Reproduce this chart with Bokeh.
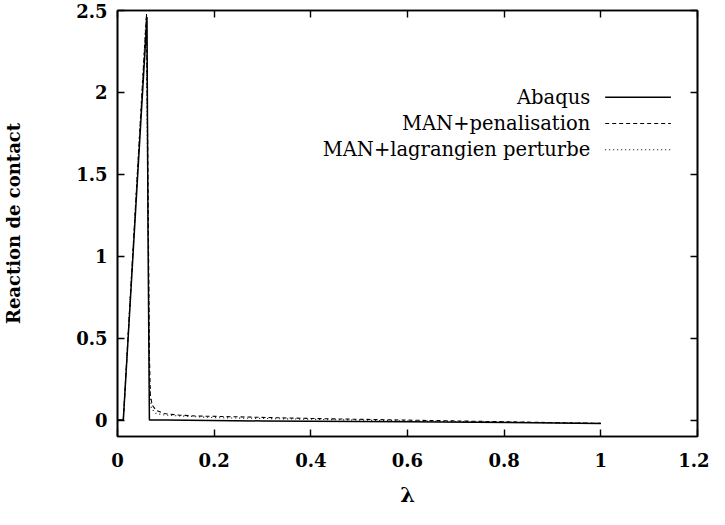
from bokeh.plotting import figure
from bokeh.models import (LinearAxis, FixedTicker, Label, Arrow, Range1d,
                          CustomLabelingPolicy)
from bokeh.embed import file_html
from bokeh.resources import INLINE

# ---- data ----
lam_abaqus = [0.0, 0.012, 0.061, 0.063, 0.066, 0.10, 0.30, 0.60, 1.0]
r_abaqus = [0.0, 0.0, 2.46, 1.20, 0.0, 0.0, -0.005, -0.01, -0.02]

lam_pen = [0.0, 0.012, 0.060, 0.063, 0.066, 0.068, 0.072, 0.080, 0.096,
           0.13, 0.165, 0.25, 0.40, 0.60, 0.80, 1.0]
r_pen = [0.0, 0.0, 2.48, 1.50, 0.40, 0.15, 0.09, 0.06, 0.04,
         0.03, 0.025, 0.02, 0.01, 0.0, -0.01, -0.02]

lam_lag = [0.0, 0.012, 0.059, 0.063, 0.066, 0.070, 0.080, 0.10,
           0.20, 0.40, 0.60, 0.80, 1.0]
r_lag = [0.0, 0.0, 2.45, 1.30, 0.25, 0.07, 0.04, 0.03,
         0.015, 0.005, -0.005, -0.012, -0.02]

x_ticks = [0, 0.2, 0.4, 0.6, 0.8, 1, 1.2]
x_tick_labels = ["0", "0.2", "0.4", "0.6", "0.8", "1", "1.2"]
y_ticks = [0, 0.5, 1, 1.5, 2, 2.5]
y_tick_labels = ["0", "0.5", "1", "1.5", "2", "2.5"]

series_names = ["Abaqus", "MAN+penalisation", "MAN+lagrangien perturbe"]

# ---- figure ----
SERIF = "DejaVu Serif"
p = figure(width=709, height=509, output_backend="svg", toolbar_location=None,
           x_range=Range1d(0, 1.2), y_range=Range1d(-0.1, 2.5),
           min_border_left=112, min_border_right=12, min_border_top=10,
           min_border_bottom=72)
p.background_fill_color = "white"
p.border_fill_color = "white"
p.outline_line_color = "black"
p.outline_line_width = 1.6
p.xgrid.visible = False
p.ygrid.visible = False

hide_labels = CustomLabelingPolicy(code="""
try {
  for (const i of Array.from(indices)) { indices.unset(i) }
} catch (e) {}
return indices
""")

def style_axis(ax, ticks, labels, show_labels=True):
    ax.ticker = FixedTicker(ticks=ticks)
    ax.major_label_overrides = {t: l for t, l in zip(ticks, labels)}
    ax.major_tick_in = 7
    ax.major_tick_out = 0
    ax.minor_tick_in = 0
    ax.minor_tick_out = 0
    ax.major_tick_line_width = 1.4
    ax.major_tick_line_color = "black"
    ax.axis_line_color = "black"
    ax.axis_line_width = 1.6
    ax.major_label_text_font = SERIF
    ax.major_label_text_font_style = "bold"
    ax.major_label_text_color = "black"
    ax.axis_label_text_color = "black"
    if show_labels:
        ax.major_label_text_font_size = "18px"
    else:
        ax.major_label_policy = hide_labels
        ax.major_label_text_font_size = "0px"
        ax.major_label_standoff = 0

xa = p.xaxis[0]
style_axis(xa, x_ticks, x_tick_labels)
xa.major_label_standoff = 16
xa.axis_label = "λ"
xa.axis_label_text_font = SERIF
xa.axis_label_text_font_style = "bold"
xa.axis_label_text_font_size = "21px"
xa.axis_label_standoff = 12

ya = p.yaxis[0]
style_axis(ya, y_ticks, y_tick_labels)
ya.major_label_standoff = 10
ya.axis_label = "Reaction de contact"
ya.axis_label_text_font = SERIF
ya.axis_label_text_font_style = "bold"
ya.axis_label_text_font_size = "18px"
ya.axis_label_standoff = 49

top_ax = LinearAxis()
style_axis(top_ax, x_ticks, x_tick_labels, show_labels=False)
p.add_layout(top_ax, "above")
right_ax = LinearAxis()
style_axis(right_ax, y_ticks, y_tick_labels, show_labels=False)
p.add_layout(right_ax, "right")

# ---- curves ----
p.line(lam_pen, r_pen, line_color="black", line_width=1.1, line_dash="4 3")
p.line(lam_lag, r_lag, line_color="black", line_width=1.1, line_dash="1 3")
p.line(lam_abaqus, r_abaqus, line_color="black", line_width=1.5)

# ---- gnuplot-style legend (text right-aligned, sample on the right) ----
styles = [("solid", 1.5), ("4 3", 1.1), ("1 3", 1.1)]
row_y = [1.97, 1.81, 1.65]
for name, (dash, lw), yy in zip(series_names, styles, row_y):
    p.add_layout(Label(x=0.978, y=yy, text=name, text_align="right",
                       text_baseline="middle", text_font=SERIF,
                       text_font_size="19.5px", text_color="black"))
    p.add_layout(Arrow(x_start=1.009, y_start=yy, x_end=1.145, y_end=yy,
                       end=None, line_color="black", line_width=lw,
                       line_dash=dash))

open("out.html", "w").write(file_html(p, INLINE))
